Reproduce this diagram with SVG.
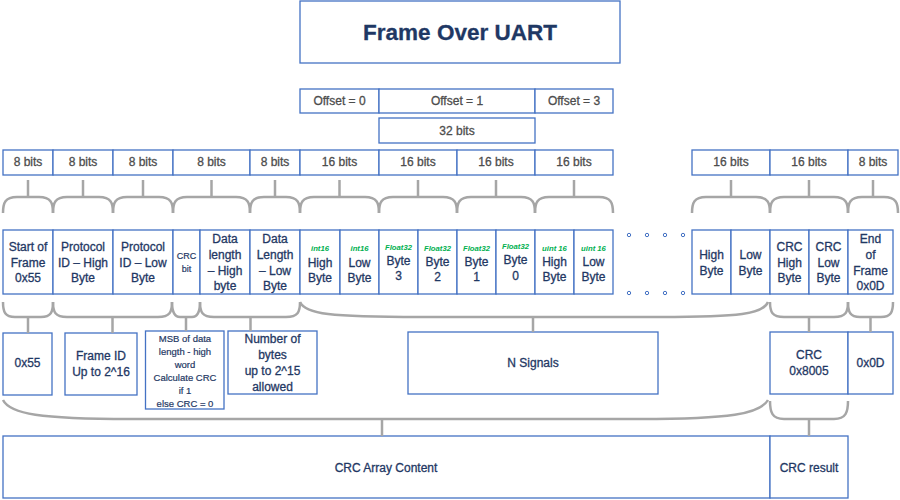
<svg xmlns="http://www.w3.org/2000/svg" width="900" height="500" viewBox="0 0 900 500">
<style>
.box{fill:#fff;stroke:#4472C4;stroke-width:1.3}
.t{font-family:"Liberation Sans",Arial,sans-serif;font-size:12px;fill:#1F3864;stroke:#1F3864;stroke-width:0.3;text-anchor:middle;dominant-baseline:central}
.g{fill:#4D4D4D;stroke:#4D4D4D}
.s{font-size:9.5px;stroke-width:0.2}
.xs{font-size:9px;stroke-width:0.2}
.gr{font-size:7.7px;font-style:italic;font-weight:bold;fill:#00B050;stroke:none}
.br{fill:none;stroke:#A6A6A6;stroke-width:2.5}
.dot{fill:#fff;stroke:#4472C4;stroke-width:1}
</style>
<rect width="900" height="500" fill="#fff"/>

<g id="title"><rect class="box" x="300" y="1" width="320" height="62"/><text class="t" x="460" y="32" style="font-size:22.5px;font-weight:bold">Frame Over UART</text></g>

<g id="offsets">
<rect class="box" x="300" y="89" width="79" height="24"/><text class="t g" x="339.5" y="101">Offset = 0</text>
<rect class="box" x="379" y="89" width="156" height="24"/><text class="t g" x="457" y="101">Offset = 1</text>
<rect class="box" x="535" y="89" width="78" height="24"/><text class="t g" x="574" y="101">Offset = 3</text>
</g>
<g id="bits32"><rect class="box" x="379" y="118" width="156" height="25"/><text class="t g" x="457" y="130.5">32 bits</text></g>

<g id="bits">
<rect class="box" x="3" y="150" width="50" height="25"/><text class="t g" x="28" y="162">8 bits</text>
<rect class="box" x="53" y="150" width="60" height="25"/><text class="t g" x="83" y="162">8 bits</text>
<rect class="box" x="113" y="150" width="60" height="25"/><text class="t g" x="143" y="162">8 bits</text>
<rect class="box" x="173" y="150" width="77" height="25"/><text class="t g" x="211.5" y="162">8 bits</text>
<rect class="box" x="250" y="150" width="50" height="25"/><text class="t g" x="275" y="162">8 bits</text>
<rect class="box" x="300" y="150" width="79" height="25"/><text class="t g" x="339.5" y="162">16 bits</text>
<rect class="box" x="379" y="150" width="78" height="25"/><text class="t g" x="418" y="162">16 bits</text>
<rect class="box" x="457" y="150" width="78" height="25"/><text class="t g" x="496" y="162">16 bits</text>
<rect class="box" x="535" y="150" width="78" height="25"/><text class="t g" x="574" y="162">16 bits</text>
<rect class="box" x="692" y="150" width="78" height="25"/><text class="t g" x="731" y="162">16 bits</text>
<rect class="box" x="770" y="150" width="78" height="25"/><text class="t g" x="809" y="162">16 bits</text>
<rect class="box" x="848" y="150" width="50" height="25"/><text class="t g" x="873" y="162">8 bits</text>
</g>

<g id="bytes">
<g id="sof"><rect class="box" x="3" y="230" width="50" height="64"/><text class="t" x="28" y="247">Start of</text><text class="t" x="28" y="263">Frame</text><text class="t" x="28" y="278">0x55</text></g>
<g id="pidh"><rect class="box" x="53" y="230" width="60" height="64"/><text class="t" x="83" y="247">Protocol</text><text class="t" x="83" y="263">ID – High</text><text class="t" x="83" y="278">Byte</text></g>
<g id="pidl"><rect class="box" x="113" y="230" width="60" height="64"/><text class="t" x="143" y="247">Protocol</text><text class="t" x="143" y="263">ID – Low</text><text class="t" x="143" y="278">Byte</text></g>
<g id="crcbit"><rect class="box" x="173" y="230" width="27" height="64"/><text class="t xs" x="186.5" y="256">CRC</text><text class="t xs" x="186.5" y="269">bit</text></g>
<g id="dlh"><rect class="box" x="200" y="230" width="50" height="64"/><text class="t" x="225" y="239">Data</text><text class="t" x="225" y="255">length</text><text class="t" x="225" y="271">– High</text><text class="t" x="225" y="286">byte</text></g>
<g id="dll"><rect class="box" x="250" y="230" width="50" height="64"/><text class="t" x="275" y="239">Data</text><text class="t" x="275" y="255">Length</text><text class="t" x="275" y="271">– Low</text><text class="t" x="275" y="286">Byte</text></g>
<g id="i16h"><rect class="box" x="300" y="230" width="40" height="64"/><text class="t gr" x="320" y="248">int16</text><text class="t" x="320" y="263">High</text><text class="t" x="320" y="278">Byte</text></g>
<g id="i16l"><rect class="box" x="340" y="230" width="39" height="64"/><text class="t gr" x="359.5" y="248">int16</text><text class="t" x="359.5" y="263">Low</text><text class="t" x="359.5" y="278">Byte</text></g>
<g id="f3"><rect class="box" x="379" y="230" width="39" height="64"/><text class="t gr" x="398.5" y="247">Float32</text><text class="t" x="398.5" y="261">Byte</text><text class="t" x="398.5" y="276">3</text></g>
<g id="f2"><rect class="box" x="418" y="230" width="39" height="64"/><text class="t gr" x="437.5" y="248">Float32</text><text class="t" x="437.5" y="262">Byte</text><text class="t" x="437.5" y="277">2</text></g>
<g id="f1"><rect class="box" x="457" y="230" width="39" height="64"/><text class="t gr" x="476.5" y="248">Float32</text><text class="t" x="476.5" y="262">Byte</text><text class="t" x="476.5" y="277">1</text></g>
<g id="f0"><rect class="box" x="496" y="230" width="39" height="64"/><text class="t gr" x="515.5" y="246">Float32</text><text class="t" x="515.5" y="260">Byte</text><text class="t" x="515.5" y="276">0</text></g>
<g id="u16h"><rect class="box" x="535" y="230" width="39" height="64"/><text class="t gr" x="554.5" y="248">uint 16</text><text class="t" x="554.5" y="262">High</text><text class="t" x="554.5" y="277">Byte</text></g>
<g id="u16l"><rect class="box" x="574" y="230" width="39" height="64"/><text class="t gr" x="593.5" y="248">uint 16</text><text class="t" x="593.5" y="262">Low</text><text class="t" x="593.5" y="277">Byte</text></g>
<g id="dots">
<circle class="dot" cx="629" cy="235" r="1.7"/><circle class="dot" cx="647" cy="235" r="1.7"/><circle class="dot" cx="665" cy="235" r="1.7"/><circle class="dot" cx="683" cy="235" r="1.7"/>
<circle class="dot" cx="629" cy="293" r="1.7"/><circle class="dot" cx="647" cy="293" r="1.7"/><circle class="dot" cx="665" cy="293" r="1.7"/><circle class="dot" cx="683" cy="293" r="1.7"/>
</g>
<g id="nh"><rect class="box" x="692" y="230" width="39" height="64"/><text class="t" x="711.5" y="255">High</text><text class="t" x="711.5" y="271">Byte</text></g>
<g id="nl"><rect class="box" x="731" y="230" width="39" height="64"/><text class="t" x="750.5" y="255">Low</text><text class="t" x="750.5" y="271">Byte</text></g>
<g id="crch"><rect class="box" x="770" y="230" width="39" height="64"/><text class="t" x="789.5" y="247">CRC</text><text class="t" x="789.5" y="263">High</text><text class="t" x="789.5" y="278">Byte</text></g>
<g id="crcl"><rect class="box" x="809" y="230" width="39" height="64"/><text class="t" x="828.5" y="247">CRC</text><text class="t" x="828.5" y="263">Low</text><text class="t" x="828.5" y="278">Byte</text></g>
<g id="eof"><rect class="box" x="848" y="230" width="45" height="64"/><text class="t" x="870.5" y="239">End</text><text class="t" x="870.5" y="255">of</text><text class="t" x="870.5" y="271">Frame</text><text class="t" x="870.5" y="286">0x0D</text></g>
</g>

<g id="desc">
<g id="d55"><rect class="box" x="3" y="333" width="49" height="62"/><text class="t" x="27.5" y="363">0x55</text></g>
<g id="dfid"><rect class="box" x="65" y="333" width="72" height="62"/><text class="t" x="101" y="356">Frame ID</text><text class="t" x="101" y="372">Up to 2^16</text></g>
<g id="dmsb"><rect class="box" x="145.5" y="331" width="78.5" height="78"/><text class="t s" x="185" y="338">MSB of data</text><text class="t s" x="185" y="351">length - high</text><text class="t s" x="185" y="364">word</text><text class="t s" x="185" y="377">Calculate CRC</text><text class="t s" x="185" y="390">if 1</text><text class="t s" x="185" y="403">else CRC = 0</text></g>
<g id="dnb"><rect class="box" x="228" y="331" width="89" height="63"/><text class="t" x="272.5" y="339">Number of</text><text class="t" x="272.5" y="355">bytes</text><text class="t" x="272.5" y="371">up to 2^15</text><text class="t" x="272.5" y="387">allowed</text></g>
<g id="dns"><rect class="box" x="408" y="332" width="250" height="62"/><text class="t" x="533" y="363">N Signals</text></g>
<g id="dcrc"><rect class="box" x="770" y="332" width="78" height="62"/><text class="t" x="809" y="355">CRC</text><text class="t" x="809" y="371">0x8005</text></g>
<g id="d0d"><rect class="box" x="848" y="332" width="45" height="62"/><text class="t" x="870.5" y="363">0x0D</text></g>
</g>

<g id="bottom">
<g id="crcarr"><rect class="box" x="3" y="436" width="767" height="62"/><text class="t" x="386" y="468">CRC Array Content</text></g>
<g id="crcres"><rect class="box" x="770" y="436" width="78" height="62"/><text class="t" x="809" y="468">CRC result</text></g>
</g>

<g id="connectors" class="br">
<path d="M3 213C3 203 5 197 17 197H39C51 197 53 203 53 213M28 180V197"/>
<path d="M53 213C53 203 55 197 67 197H99C111 197 113 203 113 213M83 180V197"/>
<path d="M113 213C113 203 115 197 127 197H159C171 197 173 203 173 213M143 180V197"/>
<path d="M173 213C173 203 175 197 187 197H236C248 197 250 203 250 213M211.5 180V197"/>
<path d="M250 213C250 203 252 197 264 197H286C298 197 300 203 300 213M275 180V197"/>
<path d="M300 213C300 203 302 197 314 197H365C377 197 379 203 379 213M339.5 180V197"/>
<path d="M379 213C379 203 381 197 393 197H443C455 197 457 203 457 213M418 180V197"/>
<path d="M457 213C457 203 459 197 471 197H521C533 197 535 203 535 213M496 180V197"/>
<path d="M535 213C535 203 537 197 549 197H599C611 197 613 203 613 213M574 180V197"/>
<path d="M692 213C692 203 694 197 706 197H756C768 197 770 203 770 213M731 180V197"/>
<path d="M770 213C770 203 772 197 784 197H834C846 197 848 203 848 213M809 180V197"/>
<path d="M848 213C848 203 850 197 862 197H884C896 197 898 203 898 213M873 180V197"/>
<path d="M3 302C3 312 5 317 15 317H41C51 317 53 312 53 302M28 317V333"/>
<path d="M53 302C53 312 55 317 67 317H158C170 317 172 312 172 302M112.5 317V333"/>
<path d="M172 302C172 312 174 317 180 317H192C198 317 200 312 200 302M186 317V331"/>
<path d="M200 302C200 312 202 317 214 317H286C298 317 300 312 300 302M250.5 317V331"/>
<path d="M300 302C305 314 330 317 420 317H660C740 317 763 314 768 302M533 317V332"/>
<path d="M770 302C770 312 772 317 784 317H834C846 317 848 312 848 302M809 317V332"/>
<path d="M848 302C848 312 850 317 860 317H881C891 317 893 312 893 302M870.5 317V332"/>
<path d="M3 400C10 414 40 419 130 419H640C730 419 760 414 768 400M382 419V436"/>
<path d="M770 401C770 412 772 419 784 419H834C846 419 848 412 848 401M809 419V436"/>
</g>
</svg>
